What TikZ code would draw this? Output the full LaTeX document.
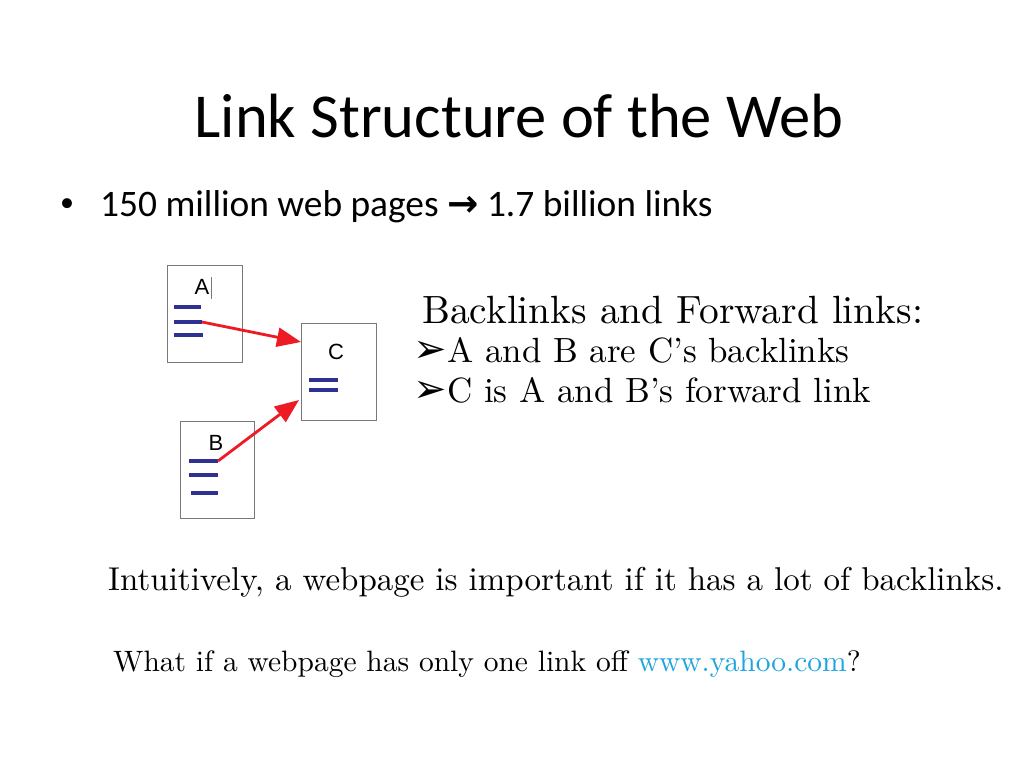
\documentclass[tikz,border=0pt]{standalone}
\usepackage{fontspec}
\setmainfont{lmroman10-regular.otf}
\newfontfamily\titlefont{Carlito}
\newfontfamily\boxfont{Liberation Sans}
\newfontfamily\symfont{DejaVu Sans}
\usetikzlibrary{arrows.meta,positioning}
\definecolor{linkred}{RGB}{237,28,36}
\definecolor{textblue}{RGB}{46,49,146}
\definecolor{urlblue}{RGB}{30,164,222}
\definecolor{pagegray}{RGB}{120,120,120}

\begin{document}
\begin{tikzpicture}[x=1pt,y=-1pt,
    page/.style={draw=pagegray, line width=1pt, minimum width=75pt, minimum height=97pt, inner sep=0pt},
    pagelabel/.style={font=\boxfont\fontsize{22}{22}\selectfont, inner sep=0pt},
    textline/.style={draw=textblue, line width=3.2pt},
    link/.style={draw=linkred, line width=2.8pt, -{Triangle[length=24pt,width=19pt]}},
    slidetext/.style={anchor=base west, inner sep=0pt},
    pointer/.style={anchor=base east, inner sep=0pt, text height=18pt, text depth=0pt, font=\symfont\fontsize{40}{40}\selectfont}]
    \useasboundingbox[fill=white] (0,0) rectangle (1024,768);
    % Title and bullet
    \node[anchor=base, inner sep=0pt, font=\titlefont\fontsize{62.5}{62.5}\selectfont] (title) at (519,137) {Link Structure of the Web};
    \node[inner sep=0pt, font=\titlefont\fontsize{28}{28}\selectfont] (bullet) at (67,205) {•};
    \node[slidetext, font=\titlefont\fontsize{37.4}{37.4}\selectfont] (facts) at (100,216) {150 million web pages {\symfont\bfseries→} 1.7 billion links};
    % Pages
    \node[page] (pageA) at (204.5,313.5) {};
    \node[page] (pageC) at (338.5,371.5) {};
    \node[page, minimum width=74pt] (pageB) at (217,469.5) {};
    \node[pagelabel] (labA) at (202,287) {A};
    \node[pagelabel] (labC) at (336,352) {C};
    \node[pagelabel] (labB) at (216,443) {B};
    \draw[pagegray, line width=0.7pt] (211,277) -- (211,299);
    % Lines of text on the pages
    \coordinate (outA) at (202,322);
    \coordinate (outB) at (218,461);
    \coordinate (inA) at (301,342);
    \coordinate (inB) at (299,400);
    \draw[textline] (174,307) -- (201,307);
    \draw[textline] (174,322) -- (outA);
    \draw[textline] (174,335) -- (203,335);
    \draw[textline] (309,380) -- (338,380);
    \draw[textline] (309,390) -- (338,390);
    \draw[textline] (189,461) -- (outB);
    \draw[textline] (189,475) -- (218,475);
    \draw[textline] (191,493) -- (218,493);
    % Links
    \draw[link] (outA) -- (inA);
    \draw[link] (outB) -- (inB);
    % Explanations
    \node[slidetext, font=\fontsize{39.4}{39.4}\selectfont] (head) at (422,323) {Backlinks and Forward links:};
    \node[slidetext, font=\fontsize{35}{35}\selectfont] (back) at (447,362) {A and B are C’s backlinks};
    \node[slidetext, font=\fontsize{35}{35}\selectfont] (fwd) at (447,402) {C is A and B’s forward link};
    \node[pointer] (markback) at (back.base west) {➢};
    \node[pointer] (markfwd) at (fwd.base west) {➢};
    \node[slidetext, font=\fontsize{33}{33}\selectfont] (intuit) at (108,590) {Intuitively, a webpage is important if it has a lot of backlinks.};
    \node[slidetext, font=\fontsize{29.5}{29.5}\selectfont] (yahoo) at (113,671) {What if a webpage has only one link off \textcolor{urlblue}{www.yahoo.com}?};
\end{tikzpicture}
\end{document}
